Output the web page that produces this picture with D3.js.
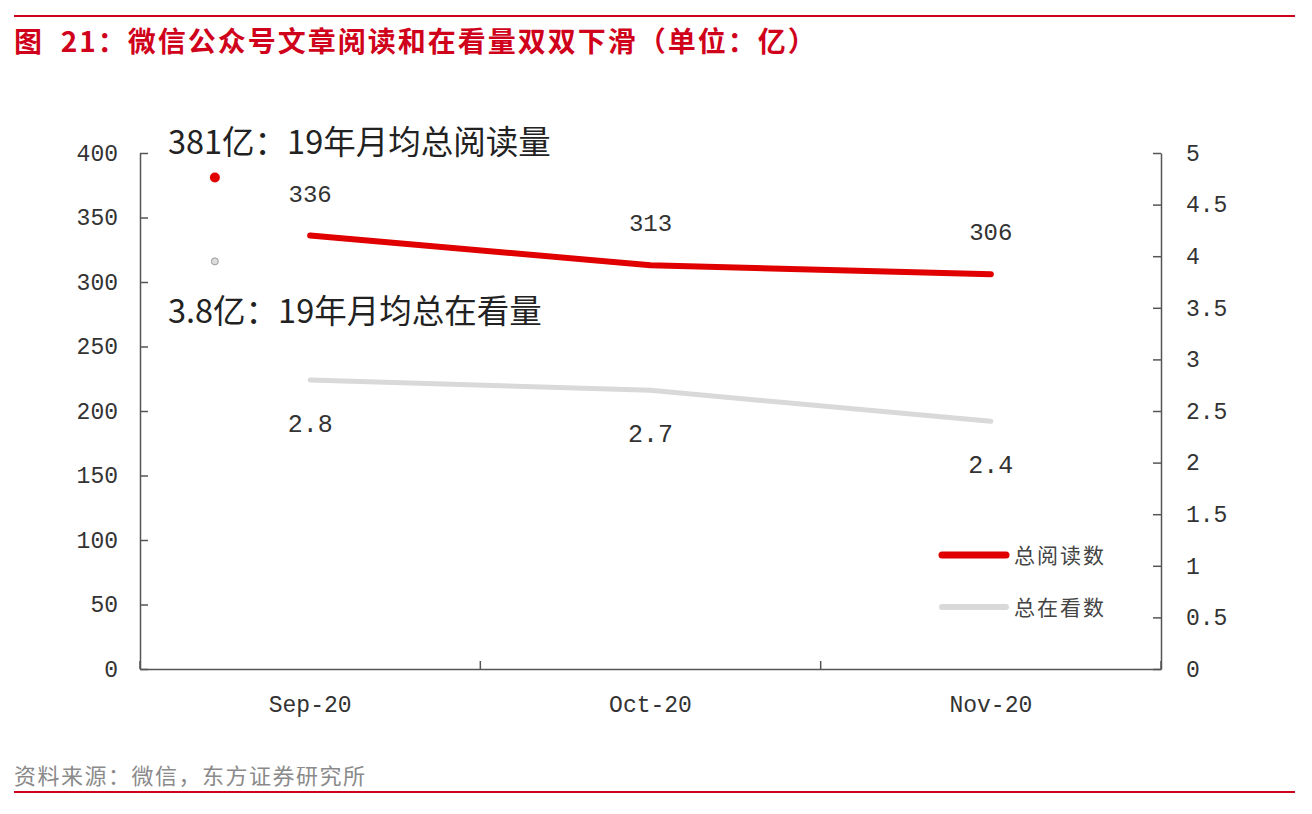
<!DOCTYPE html>
<html>
<head>
<meta charset="utf-8">
<script src="https://cdn.jsdelivr.net/npm/d3@7"></script>
<style>
  body { margin: 0; background: #fff; }
  svg { display: block; }
  .tick text { font-family: "Liberation Mono", "DejaVu Sans Mono", monospace; font-size: 23px; fill: #333; }
</style>
</head>
<body>
<svg id="chart" width="1312" height="814"></svg>
<script>
// data
const months = ["Sep-20", "Oct-20", "Nov-20"];
const totalReads = [336, 313, 306];      // 亿, left axis
const totalLikes = [2.8, 2.7, 2.4];      // 亿, right axis
const leftTicks = [0, 50, 100, 150, 200, 250, 300, 350, 400];
const rightTicks = [0, 0.5, 1, 1.5, 2, 2.5, 3, 3.5, 4, 4.5, 5];
const avgReads2019 = 381;                // red dot
const avgLikes2019 = 3.95;               // grey dot (as drawn)

const red = "#e00000";
const grey = "#d9d9d9";
const cjk = "'Noto Sans CJK SC', 'Noto Sans', sans-serif";
const mono = "'Liberation Mono', 'DejaVu Sans Mono', monospace";

const svg = d3.select("#chart");

const plotLeft = 140, plotRight = 1161, plotTop = 153, plotBottom = 669;

const x = d3.scaleBand().domain(months).range([plotLeft, plotRight]);
const yL = d3.scaleLinear().domain([0, 400]).range([plotBottom, plotTop]);
const yR = d3.scaleLinear().domain([0, 5]).range([plotBottom, plotTop]);

// title block
svg.append("line").attr("x1", 14).attr("x2", 1295).attr("y1", 16).attr("y2", 16)
    .attr("stroke", "#d0021b").attr("stroke-width", 2);
svg.append("text").attr("x", 14).attr("y", 52)
    .attr("font-family", cjk).attr("font-size", 28).attr("font-weight", "bold")
    .attr("letter-spacing", 2).attr("xml:space", "preserve")
    .attr("fill", "#d0021b")
    .text("图  21：微信公众号文章阅读和在看量双双下滑（单位：亿）");

// footer
svg.append("text").attr("x", 14).attr("y", 784)
    .attr("font-family", cjk).attr("font-size", 22).attr("fill", "#8a8a8a")
    .attr("letter-spacing", 1.5)
    .text("资料来源：微信，东方证券研究所");
svg.append("line").attr("x1", 14).attr("x2", 1295).attr("y1", 792).attr("y2", 792)
    .attr("stroke", "#d0021b").attr("stroke-width", 2);

// axes
const axisColor = "#555";
const gL = svg.append("g").attr("transform", `translate(${plotLeft},0)`)
    .call(d3.axisLeft(yL).tickValues(leftTicks).tickSize(-8).tickPadding(22).tickSizeOuter(0));
const gR = svg.append("g").attr("transform", `translate(${plotRight},0)`)
    .call(d3.axisRight(yR).tickValues(rightTicks).tickSize(-8).tickPadding(25).tickSizeOuter(0)
        .tickFormat(d => String(d)));
const gX = svg.append("g").attr("transform", `translate(0,${plotBottom})`)
    .call(d3.axisBottom(x).tickSize(0).tickPadding(22));
// category boundary ticks
const bounds = [0, 1, 2, 3].map(i => plotLeft + i * x.step());
svg.append("g").selectAll("line").data(bounds).join("line")
    .attr("x1", d => d).attr("x2", d => d)
    .attr("y1", plotBottom).attr("y2", plotBottom - 8)
    .attr("stroke", axisColor).attr("stroke-width", 1.5);

[gL, gR, gX].forEach(g => {
    g.select(".domain").attr("stroke", axisColor).attr("stroke-width", 1.5);
    g.selectAll(".tick line").attr("stroke", axisColor).attr("stroke-width", 1.5);
});
gR.selectAll(".tick text").attr("font-size", 24);
gX.selectAll(".tick text").attr("dy", "0.9em").attr("font-size", 25);

const cx = d => x(d) + x.bandwidth() / 2;

// lines
const lineL = d3.line().x((d, i) => cx(months[i])).y(d => yL(d));
const lineR = d3.line().x((d, i) => cx(months[i])).y(d => yR(d));

svg.append("path").datum(totalLikes).attr("d", lineR)
    .attr("fill", "none").attr("stroke", grey).attr("stroke-width", 5).attr("stroke-linecap", "round");
svg.append("path").datum(totalReads).attr("d", lineL)
    .attr("fill", "none").attr("stroke", red).attr("stroke-width", 6).attr("stroke-linecap", "round");

// data labels
svg.append("g").selectAll("text").data(totalReads).join("text")
    .attr("x", (d, i) => cx(months[i])).attr("y", d => yL(d) - 34)
    .attr("text-anchor", "middle").attr("font-family", mono).attr("font-size", 24).attr("fill", "#333")
    .text(d => d);
svg.append("g").selectAll("text").data(totalLikes).join("text")
    .attr("x", (d, i) => cx(months[i])).attr("y", d => yR(d) + 52)
    .attr("text-anchor", "middle").attr("font-family", mono).attr("font-size", 25).attr("fill", "#333")
    .text(d => d.toFixed(1));

// 2019 monthly average dots and notes
const dotX = x("Sep-20") + x.bandwidth() * 0.22;
svg.append("circle").attr("cx", dotX).attr("cy", yL(avgReads2019)).attr("r", 5).attr("fill", red);
svg.append("circle").attr("cx", dotX).attr("cy", yR(avgLikes2019)).attr("r", 3.5)
    .attr("fill", "#ddd").attr("stroke", "#999").attr("stroke-width", 1);

svg.append("text").attr("x", 168).attr("y", 154)
    .attr("font-family", cjk).attr("font-size", 32.5).attr("fill", "#222")
    .text("381亿：19年月均总阅读量");
svg.append("text").attr("x", 168).attr("y", 323)
    .attr("font-family", cjk).attr("font-size", 32.5).attr("fill", "#222")
    .text("3.8亿：19年月均总在看量");

// legend
const legend = [{ name: "总阅读数", color: red, w: 7 }, { name: "总在看数", color: grey, w: 6 }];
const lg = svg.append("g").selectAll("g").data(legend).join("g")
    .attr("transform", (d, i) => `translate(940,${555 + i * 52})`);
lg.append("line").attr("x1", 2).attr("x2", 66).attr("y1", 0).attr("y2", 0)
    .attr("stroke", d => d.color).attr("stroke-width", d => d.w).attr("stroke-linecap", "round");
lg.append("text").attr("x", 74).attr("y", 8)
    .attr("font-family", cjk).attr("font-size", 21).attr("fill", "#444")
    .attr("letter-spacing", 2)
    .text(d => d.name);
</script>
</body>
</html>
